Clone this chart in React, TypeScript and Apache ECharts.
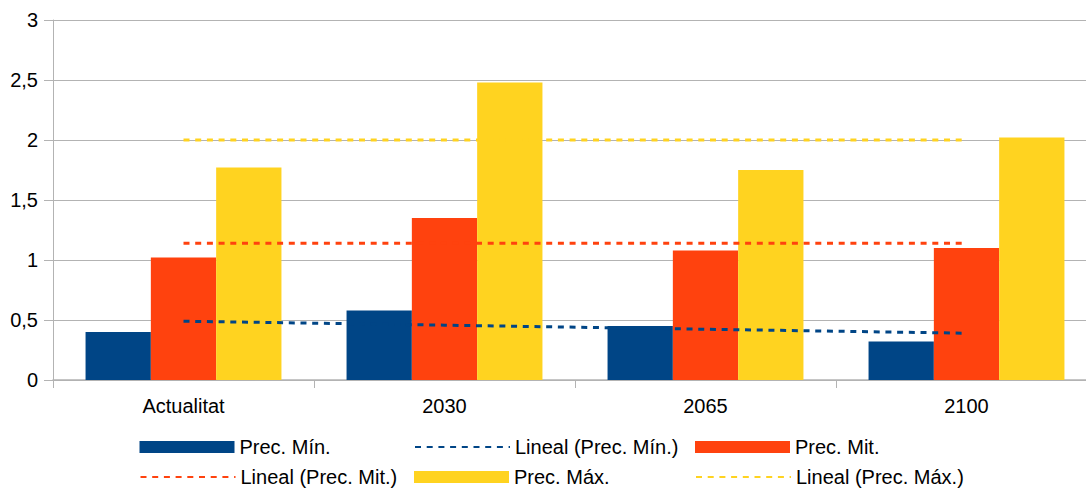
import React, { useEffect, useRef } from "react";
import * as echarts from "echarts";

const categories = ["Actualitat", "2030", "2065", "2100"];
const precMin = [0.4, 0.58, 0.45, 0.32];
const precMit = [1.02, 1.35, 1.08, 1.1];
const precMax = [1.77, 2.48, 1.75, 2.02];
const trendMin = [0.49, 0.457, 0.423, 0.39];
const trendMit = [1.14, 1.14, 1.14, 1.14];
const trendMax = [2.0, 2.0, 2.0, 2.0];
const yTicks = [0, 0.5, 1, 1.5, 2, 2.5, 3];

const BLUE = "#004586";
const RED = "#ff420e";
const YELLOW = "#ffd320";
const GRID = "#b3b3b3";
const FONT = "Liberation Sans";

export default function App() {
  const ref = useRef<HTMLDivElement>(null);
  useEffect(() => {
    if (!ref.current) return;
    const chart = echarts.init(ref.current, null, { renderer: "svg" });
    const dash = [6, 5.7];
    const legendBase = {
      orient: "horizontal",
      itemWidth: 95,
      itemHeight: 12,
      itemGap: 0,
      padding: 0,
      textStyle: { fontFamily: FONT, fontSize: 20, color: "#000", padding: [0, 0, 0, 0] },
    };
    const mkLegend = (name: string, left: number, top: number, isBar: boolean) => ({
      ...legendBase,
      left,
      top,
      itemStyle: isBar
        ? {}
        : { color: "rgba(0,0,0,0)", borderColor: "rgba(0,0,0,0)", borderWidth: 0, opacity: 0 },
      data: [isBar ? { name, icon: "rect" } : { name }],
    });
    chart.setOption({
      animation: false,
      backgroundColor: "#fff",
      grid: { left: 53, top: 20, right: 0, bottom: 108, containLabel: false },
      xAxis: {
        type: "category",
        data: categories,
        axisLine: { show: true, lineStyle: { color: GRID, width: 1.5 } },
        axisTick: { show: true, length: 8, lineStyle: { color: GRID } },
        axisLabel: { margin: 16, fontFamily: FONT, fontSize: 20, color: "#000" },
      },
      yAxis: {
        type: "value",
        min: 0,
        max: 3,
        interval: 0.5,
        axisLine: { show: true, lineStyle: { color: GRID } },
        axisTick: { show: true, length: 9, lineStyle: { color: GRID } },
        splitLine: { show: true, lineStyle: { color: GRID, width: 1 } },
        axisLabel: {
          margin: 15,
          fontFamily: FONT,
          fontSize: 20,
          color: "#000",
          formatter: (v: number) => (yTicks.includes(v) ? String(v).replace(".", ",") : ""),
        },
      },
      legend: [
        mkLegend("Prec. Mín.", 139.5, 437, true),
        mkLegend("Lineal (Prec. Mín.)", 414, 437, false),
        mkLegend("Prec. Mit.", 695, 437, true),
        mkLegend("Lineal (Prec. Mit.)", 139.5, 467, false),
        mkLegend("Prec. Máx.", 414, 467, true),
        mkLegend("Lineal (Prec. Máx.)", 695, 467, false),
      ],
      series: [
        { name: "Prec. Mín.", type: "bar", data: precMin, barWidth: 65.3, barGap: "0%", itemStyle: { color: BLUE } },
        { name: "Prec. Mit.", type: "bar", data: precMit, barWidth: 65.3, barGap: "0%", itemStyle: { color: RED } },
        { name: "Prec. Máx.", type: "bar", data: precMax, barWidth: 65.3, barGap: "0%", itemStyle: { color: YELLOW } },
        {
          name: "Lineal (Prec. Mín.)", type: "line", data: trendMin, symbol: "none", z: 5,
          itemStyle: { color: BLUE }, lineStyle: { color: BLUE, width: 3, type: dash },
        },
        {
          name: "Lineal (Prec. Mit.)", type: "line", data: trendMit, symbol: "none", z: 5,
          itemStyle: { color: RED }, lineStyle: { color: RED, width: 3, type: dash },
        },
        {
          name: "Lineal (Prec. Máx.)", type: "line", data: trendMax, symbol: "none", z: 5,
          itemStyle: { color: YELLOW }, lineStyle: { color: YELLOW, width: 3, type: dash },
        },
      ],
    });
    return () => chart.dispose();
  }, []);
  return (
    <div style={{ position: "fixed", left: 0, top: 0, width: 1086, height: 488, overflow: "hidden", background: "#fff" }}>
      <div ref={ref} style={{ width: 1097, height: 488 }} />
    </div>
  );
}
